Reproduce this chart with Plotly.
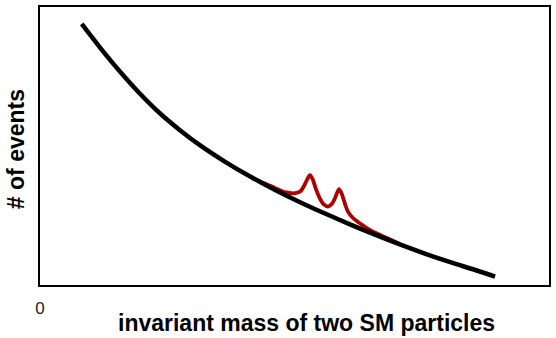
import plotly.graph_objects as go

# smooth falling SM background (arbitrary units)
bkg_mass = [8.2, 11.8, 15.7, 19.6, 23.6, 27.5, 31.4, 36.3, 41.3, 46.2,
            51.1, 56.0, 60.9, 65.8, 70.7, 75.6, 80.6, 85.5, 89.4]
bkg_events = [93.9, 85.4, 76.8, 68.9, 61.7, 55.7, 50.3, 44.4, 39.0, 34.2,
              29.8, 25.7, 21.8, 18.1, 14.6, 11.3, 8.2, 5.4, 3.0]

# background plus two resonance bumps
sig_mass = [42.8, 45.2, 48.1, 50.1, 51.1, 51.9, 52.5, 53.05, 53.6, 54.2,
            55.0, 55.8, 56.6, 57.4, 58.0, 58.74, 59.3, 59.9, 60.5, 61.5,
            62.9, 64.8, 67.8, 70.7]
sig_events = [37.5, 35.7, 33.4, 33.0, 33.6, 35.7, 38.0, 39.5, 37.9, 34.6,
              31.1, 28.9, 28.2, 29.3, 31.4, 34.5, 32.7, 29.3, 26.4, 24.1,
              22.1, 19.8, 17.2, 14.8]

fig = go.Figure()
fig.add_trace(go.Scatter(x=sig_mass, y=sig_events, mode="lines",
                         line=dict(color="#aa0000", width=3.8, shape="spline", smoothing=0.8),
                         hoverinfo="skip"))
fig.add_trace(go.Scatter(x=bkg_mass, y=bkg_events, mode="lines",
                         line=dict(color="black", width=4.5, shape="spline", smoothing=1),
                         hoverinfo="skip"))

fig.update_layout(
    width=556, height=338,
    margin=dict(l=40, r=7, t=5, b=53),
    plot_bgcolor="white", paper_bgcolor="white",
    showlegend=False,
    font=dict(family="Liberation Sans, Arial, sans-serif", color="black"),
    annotations=[
        dict(text="<b>invariant mass of two SM particles</b>", xref="paper", yref="paper",
             x=0.5226, y=-0.136, xanchor="center", yanchor="middle", showarrow=False,
             font=dict(size=23, color="black")),
        dict(text="<b># of events</b>", xref="paper", yref="paper",
             x=-0.047, y=0.489, xanchor="center", yanchor="middle", showarrow=False,
             textangle=-90, font=dict(size=23, color="black")),
    ],
)
fig.update_xaxes(range=[0, 100], showline=True, mirror=True, linecolor="black", linewidth=2,
                 showgrid=False, zeroline=False, ticks="", tickvals=[0], ticktext=["0"],
                 tickfont=dict(size=17, color="#222"), ticklabelstandoff=7)
fig.update_yaxes(range=[0, 100], showline=True, mirror=True, linecolor="black", linewidth=2,
                 showgrid=False, zeroline=False, showticklabels=False, ticks="")

# page has a default 8px body margin; drop it so the figure sits at the window corner
fig.write_html("out.html", config={"displayModeBar": False},
               post_script="document.body.style.margin='0';")
